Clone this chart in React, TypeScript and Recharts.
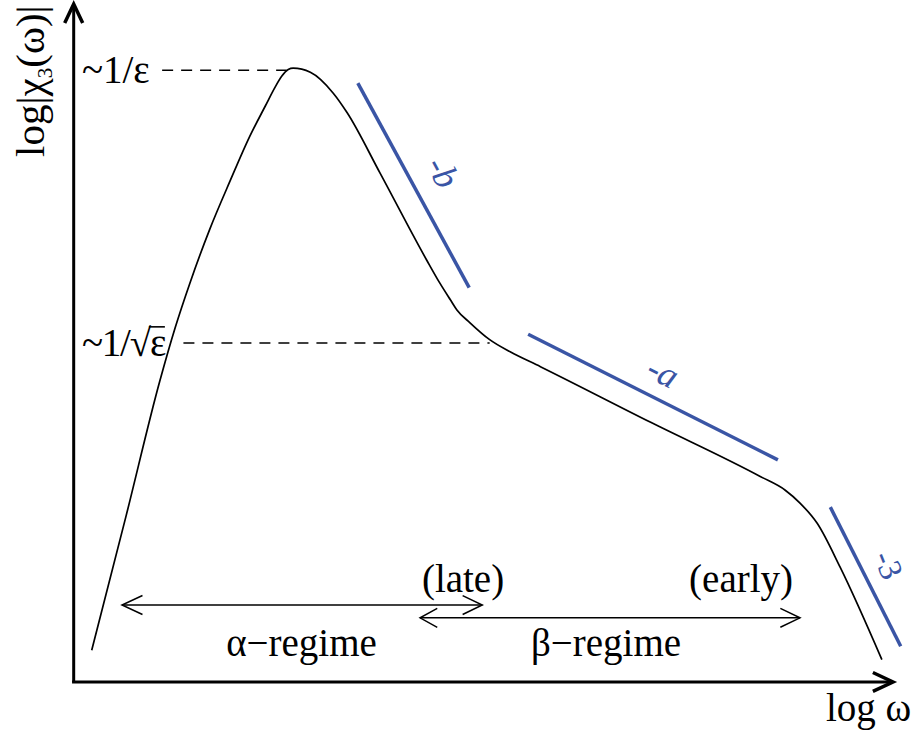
import React from 'react';
import { LineChart, Line, XAxis, YAxis, ReferenceDot } from 'recharts';

const W = 913;
const H = 736;
const X_DOMAIN: [number, number] = [-0.9, 10.25];
const Y_DOMAIN: [number, number] = [-0.8, 10.1];

// schematic response curve: log omega vs log |chi_3|
const curveLogOmega = [0.22, 0.64, 1.05, 1.24, 1.42, 1.66, 1.91, 2.15, 2.34, 2.46, 2.54, 2.62, 2.68, 2.89, 3.17, 3.34, 3.74, 4.31, 4.47, 4.6, 4.68, 4.84, 5.08, 5.33, 5.7, 7.04, 8.39, 8.69, 8.87, 9.08, 9.36, 9.87];
const curveLogChi = [0.47, 2.46, 4.45, 5.25, 5.91, 6.7, 7.42, 8.08, 8.53, 8.81, 8.97, 9.07, 9.09, 9.03, 8.72, 8.43, 7.54, 6.25, 5.91, 5.66, 5.51, 5.32, 5.07, 4.89, 4.67, 3.85, 3.04, 2.84, 2.65, 2.35, 1.7, 0.33];

// slope guides (blue)
const slopeBX = [3.47, 4.83];
const slopeBY = [8.87, 5.84];
const slopeAX = [5.55, 8.6];
const slopeAY = [5.15, 3.29];
const slope3X = [9.24, 10.1];
const slope3Y = [2.59, 0.53];

// dashed level markers
const epsLevelX = [1.08, 2.6];
const epsLevelY = [9.06, 9.06];
const sqrtEpsLevelX = [1.34, 5.08];
const sqrtEpsLevelY = [5.02, 5.02];

// axes with arrowheads
const xAxisX = [-0.02, 10.0];
const xAxisY = [0, 0];
const xHeadX = [9.76, 10.006, 9.76];
const xHeadY = [0.14, 0, -0.14];
const yAxisX = [0, 0];
const yAxisY = [0, 10.0];
const yHeadX = [-0.11, 0, 0.11];
const yHeadY = [9.76, 10.04, 9.76];

// regime arrows
const alphaX = [0.59, 4.99];
const alphaY = [1.14, 1.14];
const alphaLeftHeadX = [0.84, 0.59, 0.84];
const alphaLeftHeadY = [1.28, 1.14, 1.0];
const alphaRightHeadX = [4.75, 4.99, 4.75];
const alphaRightHeadY = [1.28, 1.14, 1.0];
const betaX = [4.23, 8.87];
const betaY = [0.95, 0.95];
const betaLeftHeadX = [4.44, 4.23, 4.44];
const betaLeftHeadY = [1.09, 0.95, 0.81];
const betaRightHeadX = [8.63, 8.87, 8.63];
const betaRightHeadY = [1.09, 0.95, 0.81];

const zip = (xs: number[], ys: number[]) => xs.map((x, i) => ({ x, y: ys[i] }));

const SERIF = '"Liberation Serif", "Times New Roman", serif';
const BLUE = '#3a55a5';
const FS = 39;

type Seg = { key: string; xs: number[]; ys: number[]; color: string; width: number; dash?: string; smooth?: boolean };

const segments: Seg[] = [
  { key: 'curve', xs: curveLogOmega, ys: curveLogChi, color: '#000', width: 1.7, smooth: true },
  { key: 'slopeB', xs: slopeBX, ys: slopeBY, color: BLUE, width: 3.5 },
  { key: 'slopeA', xs: slopeAX, ys: slopeAY, color: BLUE, width: 3.5 },
  { key: 'slope3', xs: slope3X, ys: slope3Y, color: BLUE, width: 3.5 },
  { key: 'eps', xs: epsLevelX, ys: epsLevelY, color: '#000', width: 1.5, dash: '11 8' },
  { key: 'sqrtEps', xs: sqrtEpsLevelX, ys: sqrtEpsLevelY, color: '#000', width: 1.5, dash: '11 8' },
  { key: 'xAxis', xs: xAxisX, ys: xAxisY, color: '#000', width: 3 },
  { key: 'xHead', xs: xHeadX, ys: xHeadY, color: '#000', width: 3.5 },
  { key: 'yAxis', xs: yAxisX, ys: yAxisY, color: '#000', width: 3 },
  { key: 'yHead', xs: yHeadX, ys: yHeadY, color: '#000', width: 3.5 },
  { key: 'alpha', xs: alphaX, ys: alphaY, color: '#000', width: 1.5 },
  { key: 'alphaL', xs: alphaLeftHeadX, ys: alphaLeftHeadY, color: '#000', width: 1.5 },
  { key: 'alphaR', xs: alphaRightHeadX, ys: alphaRightHeadY, color: '#000', width: 1.5 },
  { key: 'beta', xs: betaX, ys: betaY, color: '#000', width: 1.5 },
  { key: 'betaL', xs: betaLeftHeadX, ys: betaLeftHeadY, color: '#000', width: 1.5 },
  { key: 'betaR', xs: betaRightHeadX, ys: betaRightHeadY, color: '#000', width: 1.5 },
];

type Lbl = {
  key: string;
  x: number;
  y: number;
  render: (cx: number, cy: number) => React.ReactElement;
};

const plain = (text: string, anchor: 'start' | 'middle' | 'end', size = FS) => (cx: number, cy: number) => (
  <text x={cx} y={cy} textAnchor={anchor} fontFamily={SERIF} fontSize={size} fill="#000">
    {text}
  </text>
);

const slopeText = (text: string, angle: number, italic: boolean, size: number) => (cx: number, cy: number) => (
  <text
    x={cx}
    y={cy}
    textAnchor="middle"
    dominantBaseline="central"
    fontFamily={SERIF}
    fontStyle={italic ? 'italic' : 'normal'}
    fontSize={size}
    fill={BLUE}
    transform={`rotate(${angle} ${cx} ${cy})`}
  >
    {text}
  </text>
);

const labels: Lbl[] = [
  { key: 'eps', x: 0.1, y: 8.87, render: plain('~1/ε', 'start') },
  {
    key: 'sqrtEps',
    x: 0.1,
    y: 4.83,
    render: (cx, cy) => (
      <g>
        <text x={cx} y={cy} textAnchor="start" fontFamily={SERIF} fontSize={FS} fill="#000" letterSpacing={-1.2}>
          ~1/√ε
        </text>
        <line x1={cx + 67} y1={cy - 29} x2={cx + 83} y2={cy - 29} stroke="#000" strokeWidth={1.6} />
      </g>
    ),
  },
  {
    key: 'ytitle',
    x: -0.363,
    y: 7.775,
    render: (cx, cy) => (
      <text x={cx} y={cy} textAnchor="start" fontFamily={SERIF} fontSize={41} fill="#000" transform={`rotate(-90 ${cx} ${cy})`}>
        log|χ<tspan fontSize={21} dy={8}>3</tspan>
        <tspan dy={-8}>(ω)|</tspan>
      </text>
    ),
  },
  { key: 'xtitle', x: 9.188, y: -0.578, render: plain('log ω', 'start') },
  { key: 'late', x: 4.755, y: 1.333, render: plain('(late)', 'middle') },
  { key: 'early', x: 8.15, y: 1.333, render: plain('(early)', 'middle') },
  { key: 'alpha', x: 2.782, y: 0.385, render: plain('α−regime', 'middle') },
  { key: 'beta', x: 6.501, y: 0.385, render: plain('β−regime', 'middle') },
  { key: 'b', x: 4.51, y: 7.55, render: slopeText('-b', 61.6, true, 36) },
  { key: 'a', x: 7.197, y: 4.591, render: slopeText('-a', 26.7, true, 36) },
  { key: 'three', x: 9.95, y: 1.733, render: slopeText('-3', 68, false, 33) },
];

export default function App() {
  return (
    <div style={{ position: 'absolute', left: 0, top: 0, width: W, height: H, background: '#fff' }}>
      <LineChart width={W} height={H} margin={{ top: 0, right: 0, bottom: 0, left: 0 }}>
        <XAxis type="number" dataKey="x" domain={X_DOMAIN} hide />
        <YAxis type="number" dataKey="y" domain={Y_DOMAIN} hide width={0} />
        {segments.map((s) => (
          <Line
            key={s.key}
            data={zip(s.xs, s.ys)}
            dataKey="y"
            type={s.smooth ? 'monotone' : 'linear'}
            stroke={s.color}
            strokeWidth={s.width}
            strokeDasharray={s.dash}
            strokeLinejoin="miter"
            dot={false}
            activeDot={false}
            isAnimationActive={false}
          />
        ))}
        {labels.map((l) => (
          <ReferenceDot
            key={l.key}
            x={l.x}
            y={l.y}
            r={1}
            ifOverflow="visible"
            shape={(p: any) => l.render(p.cx, p.cy)}
          />
        ))}
      </LineChart>
    </div>
  );
}
